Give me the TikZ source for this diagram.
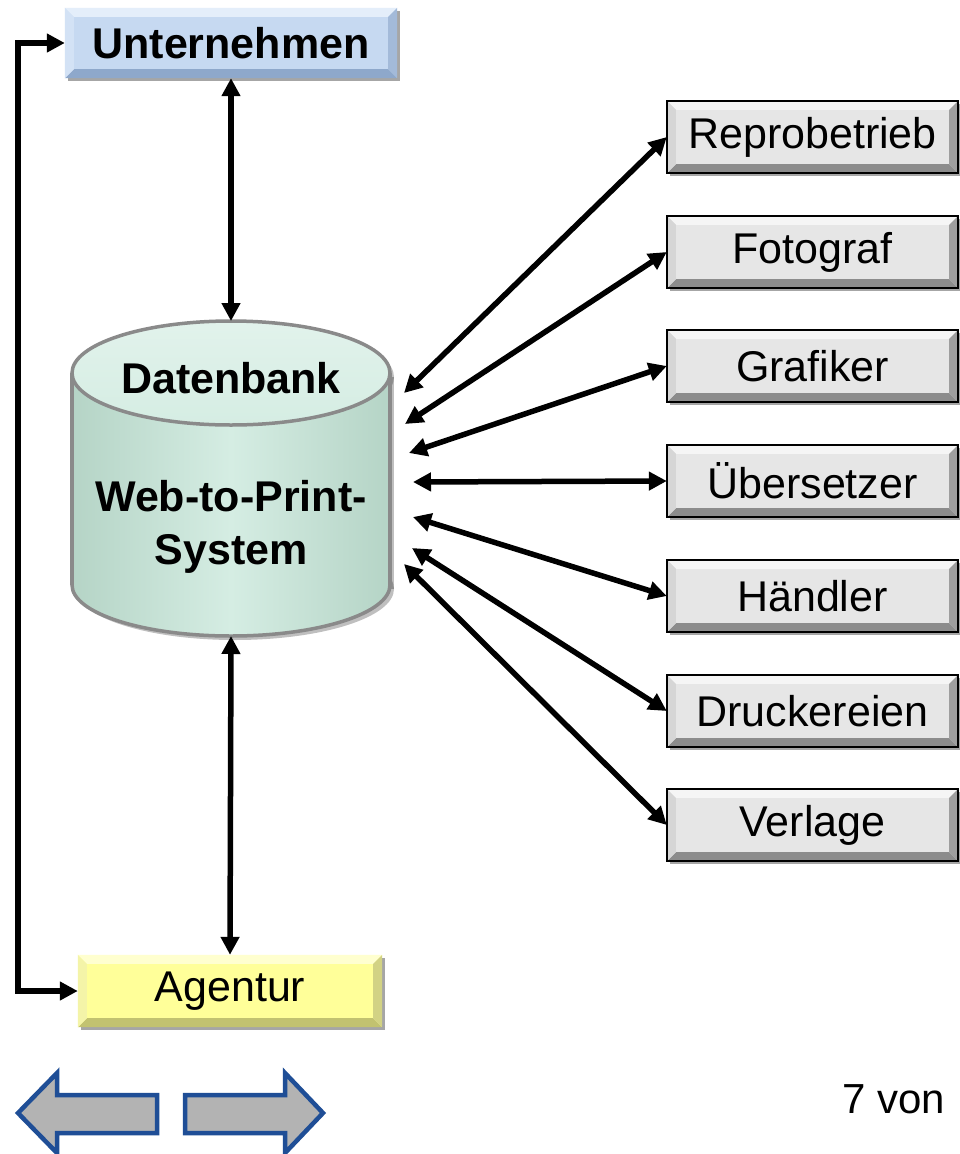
\documentclass[tikz,border=0pt]{standalone}
\usepackage{fontspec}
\setmainfont{Liberation Sans}
\usetikzlibrary{arrows.meta,shadows}
\definecolor{blbase}{HTML}{C6D9F1}
\definecolor{bltop}{HTML}{E4EEFA}
\definecolor{blleft}{HTML}{D3E2F5}
\definecolor{blbot}{HTML}{8EA8CB}
\definecolor{blright}{HTML}{A3BAD9}
\definecolor{yebase}{HTML}{FFFF99}
\definecolor{yetop}{HTML}{FFFFCF}
\definecolor{yeleft}{HTML}{F4F4A8}
\definecolor{yebot}{HTML}{C2C270}
\definecolor{yeright}{HTML}{D2D284}
\definecolor{grbase}{HTML}{E6E6E6}
\definecolor{grtop}{HTML}{F5F5F5}
\definecolor{grleft}{HTML}{D6D6D6}
\definecolor{grbot}{HTML}{8C8C8C}
\definecolor{grright}{HTML}{9E9E9E}
\definecolor{mint}{HTML}{D5EDE3}
\definecolor{mintdark}{HTML}{B5D4C6}
\definecolor{mintline}{HTML}{8A8A8A}
\definecolor{navfill}{HTML}{B3B3B3}
\definecolor{navline}{HTML}{1F4E96}
\def\bw{9pt}
\newcommand\bevel[5]{%
  \fill[#2] (#1.north west) -- (#1.north east) -- ([xshift=-\bw,yshift=-\bw]#1.north east) -- ([xshift=\bw,yshift=-\bw]#1.north west) -- cycle;
  \fill[#4] (#1.south west) -- (#1.south east) -- ([xshift=-\bw,yshift=\bw]#1.south east) -- ([xshift=\bw,yshift=\bw]#1.south west) -- cycle;
  \fill[#3] (#1.north west) -- (#1.south west) -- ([xshift=\bw,yshift=\bw]#1.south west) -- ([xshift=\bw,yshift=-\bw]#1.north west) -- cycle;
  \fill[#5] (#1.north east) -- (#1.south east) -- ([xshift=-\bw,yshift=\bw]#1.south east) -- ([xshift=-\bw,yshift=-\bw]#1.north east) -- cycle;
}
\begin{document}
\begin{tikzpicture}[x=1pt,y=-1pt,
  dbl/.style={{Triangle[length=18pt,width=18pt]}-{Triangle[length=18pt,width=18pt]}, line width=5.5pt, black},
  boxbase/.style={minimum height=72pt, inner sep=0pt, font=\fontsize{43}{50}\selectfont,
    drop shadow={shadow xshift=3pt,shadow yshift=-3pt,opacity=0.35,fill=black}},
  greybox/.style={boxbase, minimum width=291pt, fill=grbase},
  navarrow/.style={fill=navfill, draw=navline, line width=4.5pt, line join=miter}
]
\useasboundingbox (0,0) rectangle (959,1154);
\fill[white] (0,0) rectangle (959,1154);

% top and bottom boxes
\node[boxbase, minimum width=332pt, minimum height=70pt, fill=blbase] (unt) at (231,43) {};
\bevel{unt}{bltop}{blleft}{blbot}{blright}
\node[font=\fontsize{43}{50}\selectfont\bfseries] (untt) at (unt.center) {Unternehmen};

\node[boxbase, minimum width=304pt, fill=yebase] (ag) at (230,991) {};
\bevel{ag}{yetop}{yeleft}{yebot}{yeright}
\node[font=\fontsize{43}{50}\selectfont] (agt) at (ag.center) {Agentur};

% right boxes
\foreach \n/\y/\t in {r1/137/Reprobetrieb, r2/252/Fotograf, r3/366/Grafiker, r4/481/Übersetzer, r5/596/Händler, r6/711/Druckereien, r7/825/Verlage}{
  \node[greybox] (\n) at (812.5,\y) {};
  \bevel{\n}{grtop}{grleft}{grbot}{grright}
  \draw[black, line width=2.5pt] (\n.north west) rectangle (\n.south east);
  \node[font=\fontsize{43}{50}\selectfont] (\n t) at (\n.center) {\t};
}

% cylinder
\fill[black, opacity=0.25] (235,377) ellipse [x radius=159, y radius=52];
\fill[black, opacity=0.25] (235,377) rectangle (394,589);
\fill[black, opacity=0.25] (235,589) ellipse [x radius=159, y radius=51];
\shade[left color=mintdark, right color=mintdark, middle color=mint] (72,373) rectangle (390,585);
\shade[left color=mintdark, right color=mintdark, middle color=mint] (231,585) ellipse [x radius=159, y radius=51];
\shade[top color=mint!70!white, bottom color=mint] (231,373) ellipse [x radius=159, y radius=52];
\draw[mintline, line width=3.5pt] (231,373) ellipse [x radius=159, y radius=52];
\draw[mintline, line width=3.5pt] (72,373) -- (72,585);
\draw[mintline, line width=3.5pt] (390,373) -- (390,585);
\begin{scope}
  \clip (60,585) rectangle (402,650);
  \draw[mintline, line width=3.5pt] (231,585) ellipse [x radius=159, y radius=51];
\end{scope}
\node[font=\fontsize{43}{50}\selectfont\bfseries] (db) at (231,378) {Datenbank};
\node[font=\fontsize{43}{50}\selectfont\bfseries, align=center] (wtp) at (231,527) {Web-to-Print-\\[3pt]System};
\coordinate (cyltop) at (231,321);
\coordinate (cylbot) at (231,636);

% connectors
\coordinate (c1) at (404,393);
\coordinate (c2) at (405,424);
\coordinate (c3) at (409,453);
\coordinate (c4) at (413,482);
\coordinate (c5) at (413,517);
\coordinate (c6) at (412,548);
\coordinate (c7) at (404,564);
\foreach \i in {1,...,7}{
  \draw[dbl] (c\i) -- (r\i.west);
}
\draw[dbl, line width=5.5pt] (unt.south) -- (cyltop);
\draw[dbl, line width=5.5pt] (cylbot) -- (ag.north);
\coordinate (lt) at (18,43);
\coordinate (lb) at (18,991);
\draw[dbl, line width=6pt, line join=miter] (unt.west) -- (lt) -- (lb) -- (ag.west);

% navigation arrows
\draw[navarrow] (18,1113) -- (57,1073) -- (57,1095) -- (157,1095) -- (157,1133) -- (57,1133) -- (57,1153) -- cycle;
\draw[navarrow] (185,1095) -- (285,1095) -- (285,1073) -- (323,1113) -- (285,1153) -- (285,1133) -- (185,1133) -- cycle;
\node[font=\fontsize{42}{50}\selectfont, anchor=base west, inner sep=0pt] (pg) at (842,1113) {7 von};
\end{tikzpicture}
\end{document}
